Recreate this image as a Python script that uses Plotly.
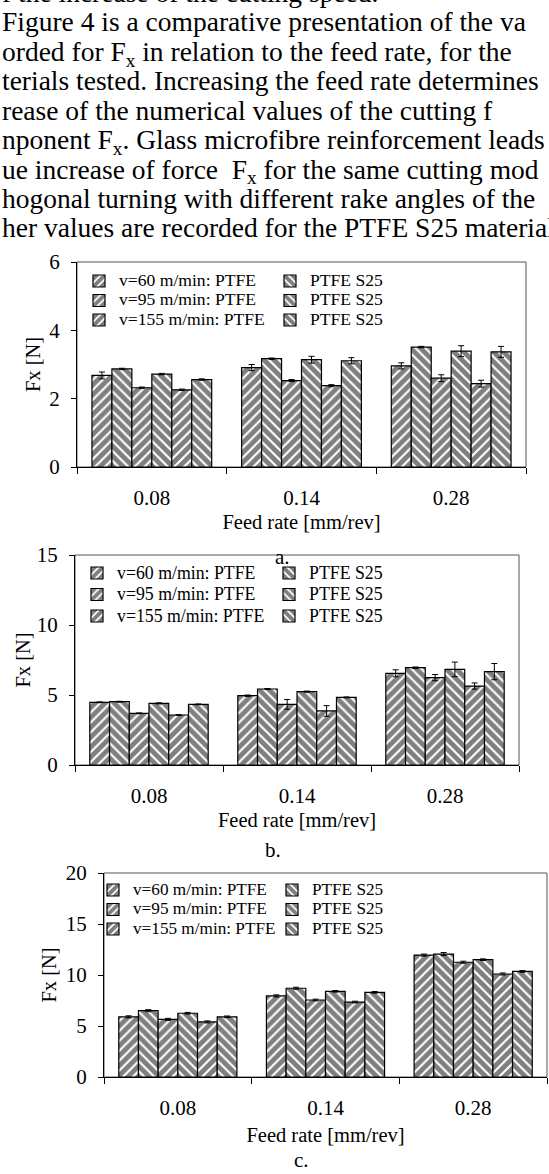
import plotly.graph_objects as go

# ---------------- data ----------------
feed_rates = ["0.08", "0.14", "0.28"]
speeds = ["v=60 m/min", "v=95 m/min", "v=155 m/min"]

# chart a
a_ptfe_v60 = [2.68, 2.91, 2.96]
a_s25_v60 = [2.87, 3.17, 3.51]
a_ptfe_v95 = [2.32, 2.53, 2.60]
a_s25_v95 = [2.72, 3.14, 3.39]
a_ptfe_v155 = [2.26, 2.38, 2.44]
a_s25_v155 = [2.56, 3.11, 3.37]
a_err_ptfe_v60 = [0.10, 0.09, 0.09]
a_err_s25_v60 = [0.02, 0.02, 0.02]
a_err_ptfe_v95 = [0.02, 0.03, 0.10]
a_err_s25_v95 = [0.02, 0.10, 0.16]
a_err_ptfe_v155 = [0.02, 0.03, 0.10]
a_err_s25_v155 = [0.02, 0.09, 0.16]

# chart b
b_ptfe_v60 = [4.48, 4.95, 6.55]
b_s25_v60 = [4.52, 5.43, 6.95]
b_ptfe_v95 = [3.69, 4.33, 6.24]
b_s25_v95 = [4.40, 5.24, 6.83]
b_ptfe_v155 = [3.57, 3.86, 5.64]
b_s25_v155 = [4.33, 4.83, 6.67]
b_err_ptfe_v60 = [0.03, 0.05, 0.25]
b_err_s25_v60 = [0.03, 0.03, 0.05]
b_err_ptfe_v95 = [0.03, 0.35, 0.22]
b_err_s25_v95 = [0.04, 0.04, 0.52]
b_err_ptfe_v155 = [0.03, 0.38, 0.22]
b_err_s25_v155 = [0.03, 0.03, 0.58]

# chart c
c_ptfe_v60 = [5.90, 7.95, 11.95]
c_s25_v60 = [6.50, 8.70, 12.05]
c_ptfe_v95 = [5.65, 7.55, 11.25]
c_s25_v95 = [6.25, 8.40, 11.50]
c_ptfe_v155 = [5.40, 7.35, 10.10]
c_s25_v155 = [5.90, 8.30, 10.35]
c_err_ptfe_v60 = [0.10, 0.10, 0.10]
c_err_s25_v60 = [0.10, 0.10, 0.15]
c_err_ptfe_v95 = [0.10, 0.08, 0.10]
c_err_s25_v95 = [0.08, 0.08, 0.08]
c_err_ptfe_v155 = [0.10, 0.08, 0.10]
c_err_s25_v155 = [0.08, 0.08, 0.08]

y_ranges = [[0, 6], [0, 15], [0, 20]]
y_dticks = [2, 5, 5]
captions = ["a.", "b.", "c."]

paragraph = [
    "f the increase of the cutting speed.",
    "Figure 4 is a comparative presentation of the va",
    "orded for F<sub>x</sub> in relation to the feed rate, for the",
    "terials tested. Increasing the feed rate determines",
    "rease of the numerical values of the cutting f",
    "nponent F<sub>x</sub>. Glass microfibre reinforcement leads",
    "ue increase of force  F<sub>x</sub> for the same cutting mod",
    "hogonal turning with different rake angles of the",
    "her values are recorded for the PTFE S25 material",
]

charts = [
    dict(ptfe=[a_ptfe_v60, a_ptfe_v95, a_ptfe_v155], s25=[a_s25_v60, a_s25_v95, a_s25_v155],
         eptfe=[a_err_ptfe_v60, a_err_ptfe_v95, a_err_ptfe_v155], es25=[a_err_s25_v60, a_err_s25_v95, a_err_s25_v155]),
    dict(ptfe=[b_ptfe_v60, b_ptfe_v95, b_ptfe_v155], s25=[b_s25_v60, b_s25_v95, b_s25_v155],
         eptfe=[b_err_ptfe_v60, b_err_ptfe_v95, b_err_ptfe_v155], es25=[b_err_s25_v60, b_err_s25_v95, b_err_s25_v155]),
    dict(ptfe=[c_ptfe_v60, c_ptfe_v95, c_ptfe_v155], s25=[c_s25_v60, c_s25_v95, c_s25_v155],
         eptfe=[c_err_ptfe_v60, c_err_ptfe_v95, c_err_ptfe_v155], es25=[c_err_s25_v60, c_err_s25_v95, c_err_s25_v155]),
]

# ---------------- layout geometry (pixels) ----------------
W, H = 549, 1174
FONT = "Liberation Serif"
# plot boxes: left, right, top, bottom
boxes = [(77, 526, 262, 467), (75, 519, 555, 765), (104, 547, 873, 1077)]
# legend: col1 text x, col2 text x, first row centre y, row spacing, text size
legends = [(119, 310, 281, 19.5, 17.6), (117, 309, 573, 21.5, 17.8), (133, 312, 890, 19.5, 17.2)]
LEG_TEXT_OFFSET = 40
caption_pos = [(282, 557), (273, 850), (301, 1160)]
ytitle_standoff = [3, 0, 3]
PARA_SIZE = 27.5
PARA_LINE = 29.43
PARA_TOP = -24.6


def px_x(v):
    return v / W


def px_y(v):
    return 1 - v / H


fig = go.Figure()
layout = dict(
    width=W, height=H,
    margin=dict(l=0, r=0, t=0, b=0, autoexpand=False),
    paper_bgcolor="white", plot_bgcolor="white",
    font=dict(family=FONT, color="black"),
    barmode="group", bargap=0.2, bargroupgap=0,
    hovermode=False,
    showlegend=True,
)
annotations = []
shapes = []

for k, ch in enumerate(charts):
    sfx = "" if k == 0 else str(k + 1)
    xname, yname = "x" + sfx, "y" + sfx
    leg_a = "legend" if k == 0 else "legend" + str(2 * k + 1)
    leg_b = "legend" + str(2 * k + 2)
    _, _, _, _, tsize = legends[k]
    for i, sp in enumerate(speeds):
        fig.add_trace(go.Bar(
            x=feed_rates, y=ch["ptfe"][i], xaxis=xname, yaxis=yname,
            name=f"<span style='font-size:{tsize}px'>{sp}: PTFE</span>",
            legend=leg_a,
            marker=dict(color="white", line=dict(color="black", width=1.2),
                        pattern=dict(shape="/", fgcolor="black", bgcolor="white", size=7, solidity=0.7)),
            error_y=dict(type="data", array=ch["eptfe"][i], color="black", thickness=1, width=3),
        ))
        fig.add_trace(go.Bar(
            x=feed_rates, y=ch["s25"][i], xaxis=xname, yaxis=yname,
            name=f"<span style='font-size:{tsize}px'>PTFE S25</span>",
            legend=leg_b,
            marker=dict(color="white", line=dict(color="black", width=1.2),
                        pattern=dict(shape="\\", fgcolor="black", bgcolor="white", size=7, solidity=0.7)),
            error_y=dict(type="data", array=ch["es25"][i], color="black", thickness=1, width=3),
        ))

    l, r, t, b = boxes[k]
    layout["xaxis" + sfx] = dict(
        domain=[px_x(l), px_x(r)], anchor=yname, type="category",
        categoryorder="array", categoryarray=feed_rates, range=[-0.5, 2.5],
        tickson="boundaries", ticks="outside", ticklen=6, tickcolor="black",
        showline=True, linecolor="black", linewidth=1, showgrid=False,
        tickfont=dict(family=FONT, size=21, color="black"), ticklabelstandoff=12,
        title=dict(text="Feed rate [mm/rev]", font=dict(family=FONT, size=20.5, color="black"),
                   standoff=5 if k < 2 else 8),
        fixedrange=True,
    )
    layout["yaxis" + sfx] = dict(
        domain=[px_y(b), px_y(t)], anchor=xname, range=y_ranges[k], dtick=y_dticks[k],
        ticks="outside", ticklen=5, tickcolor="black", showline=True, linecolor="black",
        linewidth=1, showgrid=False, zeroline=False,
        tickfont=dict(family=FONT, size=21, color="black"), ticklabelstandoff=7,
        title=dict(text="Fx [N]", font=dict(family=FONT, size=20.5, color="black"),
                   standoff=ytitle_standoff[k]),
        fixedrange=True,
    )
    shapes.append(dict(type="rect", xref=xname + " domain", yref=yname + " domain",
                       x0=0, x1=1, y0=0, y1=1, line=dict(color="#555555", width=1),
                       layer="below"))

    c1, c2, row0, rowh, _ = legends[k]
    lfont = (rowh - 3) / 1.3
    top = row0 - 5 - rowh / 2
    for name, tx in ((leg_a, c1), (leg_b, c2)):
        layout[name] = dict(
            x=px_x(tx - LEG_TEXT_OFFSET), y=px_y(top), xref="paper", yref="paper",
            xanchor="left", yanchor="top", orientation="v",
            bgcolor="rgba(0,0,0,0)", borderwidth=0, tracegroupgap=0,
            traceorder="normal", itemclick=False, itemdoubleclick=False,
            font=dict(family=FONT, size=lfont, color="black"),
        )

    cx, cy = caption_pos[k]
    annotations.append(dict(text=captions[k], x=px_x(cx), y=px_y(cy), xref="paper", yref="paper",
                            xanchor="center", yanchor="middle", showarrow=False,
                            font=dict(family=FONT, size=21, color="black")))

# the page text above the figure, as one block of lines
para_text = "<br>".join(f"<span style='font-size:{PARA_SIZE}px'>{ln}</span>" for ln in paragraph)
annotations.append(dict(text=para_text, x=0, y=px_y(PARA_TOP), xref="paper", yref="paper",
                        xanchor="left", yanchor="top", align="left", showarrow=False,
                        font=dict(family=FONT, size=PARA_LINE / 1.3, color="black")))

layout["annotations"] = annotations
layout["shapes"] = shapes
fig.update_layout(**layout)

fig.write_html(
    "out.html",
    config={"displayModeBar": False, "staticPlot": True},
    post_script="document.body.style.margin='0';document.body.style.padding='0';",
)
